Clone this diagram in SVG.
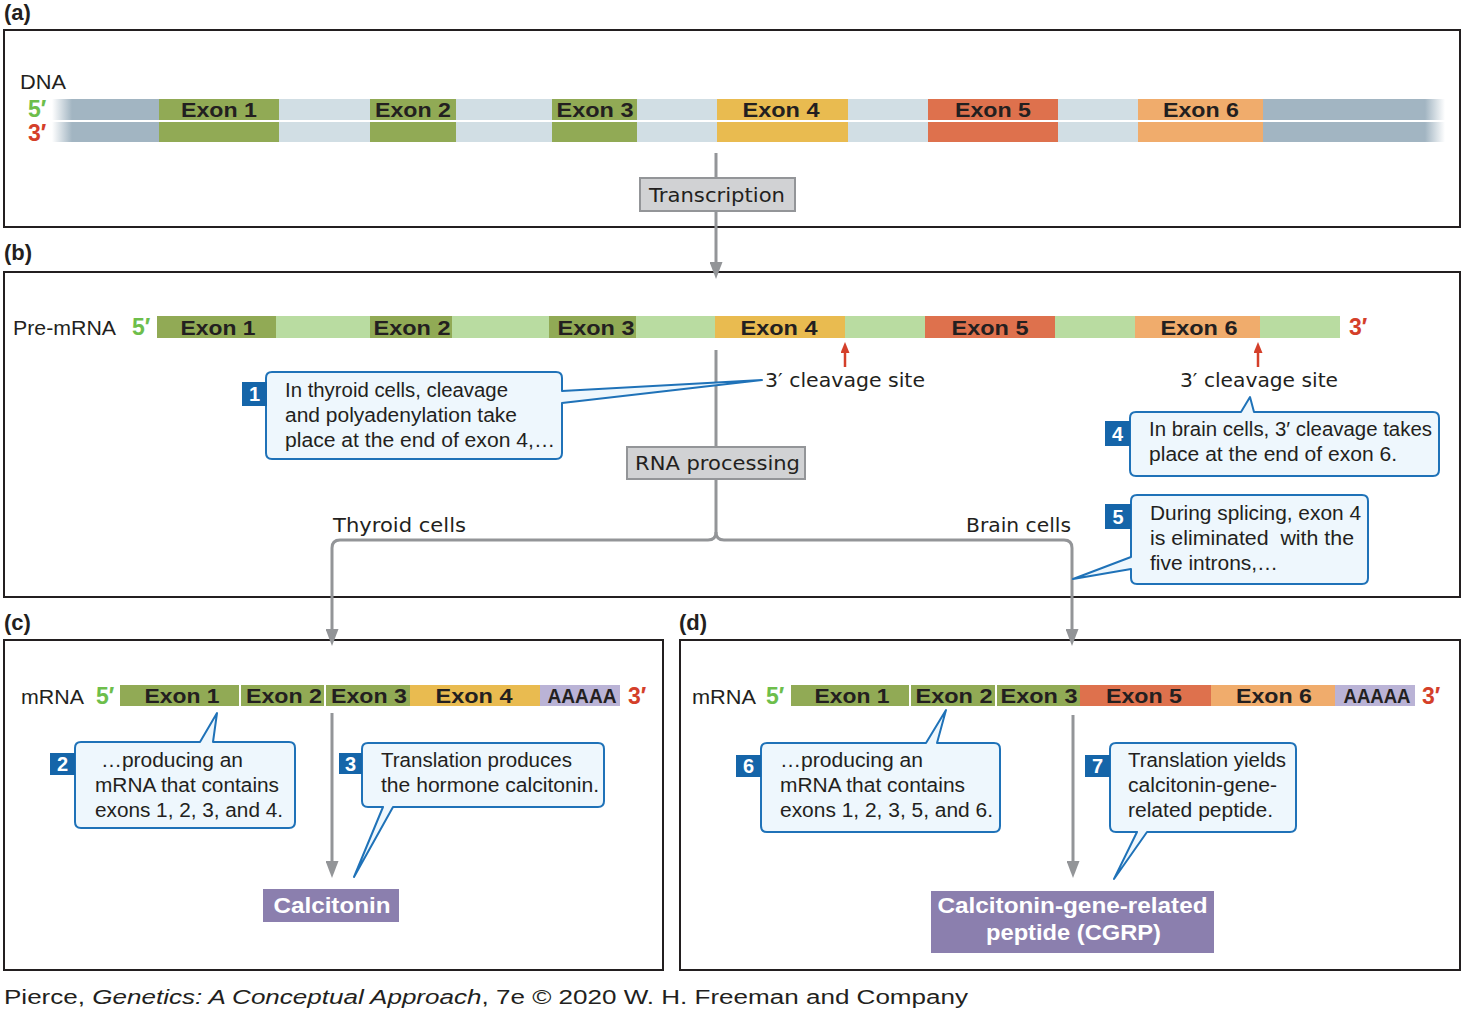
<svg xmlns="http://www.w3.org/2000/svg" width="1464" height="1014" viewBox="0 0 1464 1014">
<defs>
<style>
.panel{fill:none;stroke:#231f20;stroke-width:2}
.plab{font-family:"Liberation Sans",Arial,sans-serif;font-weight:bold;font-size:22px;fill:#231f20}
.t{font-family:"Liberation Sans",Arial,sans-serif;font-size:20px;fill:#231f20}
.l{font-family:"DejaVu Sans","Liberation Sans",sans-serif;font-size:19px;fill:#231f20}
.ex{font-family:"Liberation Sans",Arial,sans-serif;font-weight:bold;font-size:21px;fill:#231f20;text-anchor:middle}
.p5{font-family:"Liberation Sans",Arial,sans-serif;font-weight:bold;font-size:23px;fill:#6dbe4b}
.p3{font-family:"Liberation Sans",Arial,sans-serif;font-weight:bold;font-size:23px;fill:#d43f2a}
.g{fill:#91aa55}.y{fill:#e9bb50}.r{fill:#de714d}.o{fill:#f0ac6c}.a{fill:#bab3d6}.di{fill:#d1dee4}.df{fill:#a2b5c2}.pi{fill:#b9dca1}
.co{fill:#eef7fd;stroke:#1f72b8;stroke-width:2;stroke-linejoin:round}
.bd{fill:#1565a9}
.bn{font-family:"Liberation Sans",Arial,sans-serif;font-weight:bold;font-size:20px;fill:#ffffff;text-anchor:middle}
.gb{fill:#d1d2d4;stroke:#939598;stroke-width:2}
.conn{fill:none;stroke:#939598;stroke-width:3}
.pb{fill:#8b7fae}
.pt{font-family:"Liberation Sans",Arial,sans-serif;font-weight:bold;font-size:22px;fill:#ffffff;text-anchor:middle}
.red{stroke:#d43f2a;stroke-width:2.5;fill:none}
</style>
<marker id="ah" markerUnits="userSpaceOnUse" markerWidth="17" markerHeight="13" viewBox="0 0 17 13" refX="0" refY="6.5" orient="auto"><path d="M0,0 L17,6.5 L0,13 Z" fill="#939598"/></marker>
<marker id="rah" markerUnits="userSpaceOnUse" markerWidth="11" markerHeight="9" viewBox="0 0 11 9" refX="0" refY="4.5" orient="auto"><path d="M0,0 L11,4.5 L0,9 Z" fill="#d43f2a"/></marker>
<linearGradient id="fl" x1="0" x2="1" y1="0" y2="0"><stop offset="0" stop-color="#a2b5c2" stop-opacity="0"/><stop offset="1" stop-color="#a2b5c2"/></linearGradient>
<linearGradient id="fr" x1="0" x2="1" y1="0" y2="0"><stop offset="0" stop-color="#a2b5c2"/><stop offset="1" stop-color="#a2b5c2" stop-opacity="0"/></linearGradient>
</defs>
<rect width="1464" height="1014" fill="#ffffff"/>

<!-- panels -->
<g id="panels">
<text class="plab" x="4" y="20">(a)</text>
<rect class="panel" x="4" y="30" width="1456" height="197"/>
<text class="plab" x="4" y="260">(b)</text>
<rect class="panel" x="4" y="272" width="1456" height="325"/>
<text class="plab" x="4" y="630">(c)</text>
<rect class="panel" x="4" y="640" width="659" height="330"/>
<text class="plab" x="679" y="630">(d)</text>
<rect class="panel" x="680" y="640" width="780" height="330"/>
</g>

<!-- connectors -->
<g id="connectors">
<path class="conn" d="M716,153 V262" marker-end="url(#ah)"/>
<path class="conn" d="M716,350 V532 Q716,540 708,540 H340 Q332,540 332,548 V629" marker-end="url(#ah)"/>
<path class="conn" d="M716,532 Q716,540 724,540 H1064 Q1072,540 1072,548 V629" marker-end="url(#ah)"/>
<path class="conn" d="M332,713 V861" marker-end="url(#ah)"/>
<path class="conn" d="M1073,715 V861" marker-end="url(#ah)"/>
<path class="red" d="M845,367 V353" marker-end="url(#rah)"/>
<path class="red" d="M1258,367 V353" marker-end="url(#rah)"/>
</g>

<!-- DNA -->
<g id="dna">
<text class="t" x="20" y="89" font-size="21" textLength="46" lengthAdjust="spacingAndGlyphs">DNA</text>
<text class="p5" x="28" y="117" font-size="21">5′</text>
<text class="p3" x="28" y="141" font-size="21">3′</text>
<rect x="52" y="99" width="20" height="43" fill="url(#fl)"/>
<rect class="df" x="72" y="99" width="87" height="43"/>
<rect class="g" x="159" y="99" width="120" height="43"/>
<rect class="di" x="279" y="99" width="91" height="43"/>
<rect class="g" x="370" y="99" width="86" height="43"/>
<rect class="di" x="456" y="99" width="96" height="43"/>
<rect class="g" x="552" y="99" width="85" height="43"/>
<rect class="di" x="637" y="99" width="80" height="43"/>
<rect class="y" x="717" y="99" width="131" height="43"/>
<rect class="di" x="848" y="99" width="80" height="43"/>
<rect class="r" x="928" y="99" width="130" height="43"/>
<rect class="di" x="1058" y="99" width="80" height="43"/>
<rect class="o" x="1138" y="99" width="125" height="43"/>
<rect class="df" x="1263" y="99" width="162" height="43"/>
<rect x="1425" y="99" width="20" height="43" fill="url(#fr)"/>
<rect x="52" y="120" width="1393" height="2" fill="#ffffff"/>
<text class="ex" x="219" y="117" textLength="76" lengthAdjust="spacingAndGlyphs">Exon 1</text>
<text class="ex" x="413" y="117" textLength="76" lengthAdjust="spacingAndGlyphs">Exon 2</text>
<text class="ex" x="595" y="117" textLength="77" lengthAdjust="spacingAndGlyphs">Exon 3</text>
<text class="ex" x="781" y="117" textLength="77" lengthAdjust="spacingAndGlyphs">Exon 4</text>
<text class="ex" x="993" y="117" textLength="76" lengthAdjust="spacingAndGlyphs">Exon 5</text>
<text class="ex" x="1201" y="117" textLength="76" lengthAdjust="spacingAndGlyphs">Exon 6</text>
</g>

<g id="transcription">
<rect class="gb" x="640" y="178" width="155" height="33"/>
<text class="l" x="649" y="202" textLength="136" lengthAdjust="spacingAndGlyphs">Transcription</text>
</g>

<!-- Pre-mRNA -->
<g id="premrna">
<text class="t" x="13" y="335" textLength="103" lengthAdjust="spacingAndGlyphs">Pre-mRNA</text>
<text class="p5" x="132" y="335">5′</text>
<rect class="g" x="157" y="316" width="119" height="22"/>
<rect class="pi" x="276" y="316" width="94" height="22"/>
<rect class="g" x="370" y="316" width="82" height="22"/>
<rect class="pi" x="452" y="316" width="97" height="22"/>
<rect class="g" x="549" y="316" width="87" height="22"/>
<rect class="pi" x="636" y="316" width="79" height="22"/>
<rect class="y" x="715" y="316" width="130" height="22"/>
<rect class="pi" x="845" y="316" width="80" height="22"/>
<rect class="r" x="925" y="316" width="130" height="22"/>
<rect class="pi" x="1055" y="316" width="80" height="22"/>
<rect class="o" x="1135" y="316" width="125" height="22"/>
<rect class="pi" x="1260" y="316" width="80" height="22"/>
<text class="p3" x="1349" y="335">3′</text>
<text class="ex" x="218" y="335" textLength="75" lengthAdjust="spacingAndGlyphs">Exon 1</text>
<text class="ex" x="412" y="335" textLength="77" lengthAdjust="spacingAndGlyphs">Exon 2</text>
<text class="ex" x="596" y="335" textLength="77" lengthAdjust="spacingAndGlyphs">Exon 3</text>
<text class="ex" x="779" y="335" textLength="77" lengthAdjust="spacingAndGlyphs">Exon 4</text>
<text class="ex" x="990" y="335" textLength="77" lengthAdjust="spacingAndGlyphs">Exon 5</text>
<text class="ex" x="1199" y="335" textLength="77" lengthAdjust="spacingAndGlyphs">Exon 6</text>
</g>

<g id="cleavage1"><text class="l" x="765" y="387" textLength="160" lengthAdjust="spacingAndGlyphs">3′ cleavage site</text></g>
<g id="cleavage2"><text class="l" x="1180" y="387" textLength="158" lengthAdjust="spacingAndGlyphs">3′ cleavage site</text></g>

<g id="rnaproc">
<rect class="gb" x="627" y="447" width="178" height="32"/>
<text class="l" x="635" y="470" textLength="165" lengthAdjust="spacingAndGlyphs">RNA processing</text>
</g>
<g id="thyroid"><text class="l" x="333" y="532" textLength="133" lengthAdjust="spacingAndGlyphs">Thyroid cells</text></g>
<g id="brain"><text class="l" x="966" y="532" textLength="105" lengthAdjust="spacingAndGlyphs">Brain cells</text></g>

<!-- callout 1 -->
<g id="callout1">
<path class="co" d="M272,372 H556 Q562,372 562,378 V391 L762,380 L562,403 V453 Q562,459 556,459 H272 Q266,459 266,453 V378 Q266,372 272,372 Z"/>
<rect class="bd" x="242" y="382" width="25" height="24"/>
<text class="bn" x="254.5" y="401">1</text>
<text class="t" x="285" y="397" textLength="223" lengthAdjust="spacingAndGlyphs">In thyroid cells, cleavage</text>
<text class="t" x="285" y="422" textLength="232" lengthAdjust="spacingAndGlyphs">and polyadenylation take</text>
<text class="t" x="285" y="447" textLength="270" lengthAdjust="spacingAndGlyphs">place at the end of exon 4,…</text>
</g>

<!-- callout 4 -->
<g id="callout4">
<path class="co" d="M1136,412 H1241 L1250,397 L1254,412 H1433 Q1439,412 1439,418 V470 Q1439,476 1433,476 H1136 Q1130,476 1130,470 V418 Q1130,412 1136,412 Z"/>
<rect class="bd" x="1105" y="421" width="25" height="25"/>
<text class="bn" x="1117.5" y="441">4</text>
<text class="t" x="1149" y="436" textLength="283" lengthAdjust="spacingAndGlyphs">In brain cells, 3′ cleavage takes</text>
<text class="t" x="1149" y="461" textLength="248" lengthAdjust="spacingAndGlyphs">place at the end of exon 6.</text>
</g>

<!-- callout 5 -->
<g id="callout5">
<path class="co" d="M1137,495 H1362 Q1368,495 1368,501 V578 Q1368,584 1362,584 H1137 Q1131,584 1131,578 V569 L1073,579 L1131,557 V501 Q1131,495 1137,495 Z"/>
<rect class="bd" x="1105" y="504" width="26" height="25"/>
<text class="bn" x="1118" y="524">5</text>
<text class="t" x="1150" y="520" textLength="211" lengthAdjust="spacingAndGlyphs">During splicing, exon 4</text>
<text class="t" x="1150" y="545" textLength="204" lengthAdjust="spacingAndGlyphs" xml:space="preserve">is eliminated  with the</text>
<text class="t" x="1150" y="570" textLength="128" lengthAdjust="spacingAndGlyphs">five introns,…</text>
</g>

<!-- mRNA (c) -->
<g id="mrna-c">
<text class="t" x="21" y="704" textLength="63" lengthAdjust="spacingAndGlyphs">mRNA</text>
<text class="p5" x="96" y="704">5′</text>
<rect class="g" x="120" y="685" width="119" height="21"/>
<rect class="g" x="241" y="685" width="83" height="21"/>
<rect class="g" x="326" y="685" width="84" height="21"/>
<rect class="y" x="410" y="685" width="130" height="21"/>
<rect class="a" x="540" y="685" width="80" height="21"/>
<text class="p3" x="628" y="704">3′</text>
<text class="ex" x="182" y="703" textLength="75" lengthAdjust="spacingAndGlyphs">Exon 1</text>
<text class="ex" x="284" y="703" textLength="76" lengthAdjust="spacingAndGlyphs">Exon 2</text>
<text class="ex" x="369" y="703" textLength="76" lengthAdjust="spacingAndGlyphs">Exon 3</text>
<text class="ex" x="474" y="703" textLength="77" lengthAdjust="spacingAndGlyphs">Exon 4</text>
<text class="ex" x="582" y="703" textLength="69" lengthAdjust="spacingAndGlyphs">AAAAA</text>
</g>

<g id="callout2">
<path class="co" d="M81,742 H200 L217,713 L213,742 H289 Q295,742 295,748 V822 Q295,828 289,828 H81 Q75,828 75,822 V748 Q75,742 81,742 Z"/>
<rect class="bd" x="50" y="753" width="25" height="22"/>
<text class="bn" x="62.5" y="771">2</text>
<text class="t" x="101" y="767" textLength="142" lengthAdjust="spacingAndGlyphs">…producing an</text>
<text class="t" x="95" y="792" textLength="184" lengthAdjust="spacingAndGlyphs">mRNA that contains</text>
<text class="t" x="95" y="817" textLength="188" lengthAdjust="spacingAndGlyphs">exons 1, 2, 3, and 4.</text>
</g>

<g id="callout3">
<path class="co" d="M368,743 H598 Q604,743 604,749 V801 Q604,807 598,807 H393 L354,877 L383,807 H368 Q362,807 362,801 V749 Q362,743 368,743 Z"/>
<rect class="bd" x="339" y="753" width="23" height="21"/>
<text class="bn" x="350.5" y="771">3</text>
<text class="t" x="381" y="767" textLength="191" lengthAdjust="spacingAndGlyphs">Translation produces</text>
<text class="t" x="381" y="792" textLength="218" lengthAdjust="spacingAndGlyphs">the hormone calcitonin.</text>
</g>

<g id="calcitonin">
<rect class="pb" x="263" y="889" width="136" height="33"/>
<text class="pt" x="332" y="913" textLength="117" lengthAdjust="spacingAndGlyphs">Calcitonin</text>
</g>

<!-- mRNA (d) -->
<g id="mrna-d">
<text class="t" x="692" y="704" textLength="64" lengthAdjust="spacingAndGlyphs">mRNA</text>
<text class="p5" x="766" y="704">5′</text>
<rect class="g" x="791" y="685" width="118" height="21"/>
<rect class="g" x="911" y="685" width="84" height="21"/>
<rect class="g" x="997" y="685" width="83" height="21"/>
<rect class="r" x="1080" y="685" width="131" height="21"/>
<rect class="o" x="1211" y="685" width="124" height="21"/>
<rect class="a" x="1335" y="685" width="80" height="21"/>
<text class="p3" x="1422" y="704">3′</text>
<text class="ex" x="852" y="703" textLength="75" lengthAdjust="spacingAndGlyphs">Exon 1</text>
<text class="ex" x="954" y="703" textLength="77" lengthAdjust="spacingAndGlyphs">Exon 2</text>
<text class="ex" x="1039" y="703" textLength="77" lengthAdjust="spacingAndGlyphs">Exon 3</text>
<text class="ex" x="1144" y="703" textLength="76" lengthAdjust="spacingAndGlyphs">Exon 5</text>
<text class="ex" x="1274" y="703" textLength="76" lengthAdjust="spacingAndGlyphs">Exon 6</text>
<text class="ex" x="1377" y="703" textLength="67" lengthAdjust="spacingAndGlyphs">AAAAA</text>
</g>

<g id="callout6">
<path class="co" d="M767,743 H926 L946,710 L937,743 H994 Q1000,743 1000,749 V826 Q1000,832 994,832 H767 Q761,832 761,826 V749 Q761,743 767,743 Z"/>
<rect class="bd" x="736" y="755" width="25" height="22"/>
<text class="bn" x="748.5" y="773">6</text>
<text class="t" x="780" y="767" textLength="143" lengthAdjust="spacingAndGlyphs">…producing an</text>
<text class="t" x="780" y="792" textLength="185" lengthAdjust="spacingAndGlyphs">mRNA that contains</text>
<text class="t" x="780" y="817" textLength="213" lengthAdjust="spacingAndGlyphs">exons 1, 2, 3, 5, and 6.</text>
</g>

<g id="callout7">
<path class="co" d="M1116,743 H1290 Q1296,743 1296,749 V826 Q1296,832 1290,832 H1147 L1114,879 L1137,832 H1116 Q1110,832 1110,826 V749 Q1110,743 1116,743 Z"/>
<rect class="bd" x="1085" y="755" width="25" height="22"/>
<text class="bn" x="1097.5" y="773">7</text>
<text class="t" x="1128" y="767" textLength="158" lengthAdjust="spacingAndGlyphs">Translation yields</text>
<text class="t" x="1128" y="792" textLength="149" lengthAdjust="spacingAndGlyphs">calcitonin-gene-</text>
<text class="t" x="1128" y="817" textLength="145" lengthAdjust="spacingAndGlyphs">related peptide.</text>
</g>

<g id="cgrp">
<rect class="pb" x="931" y="891" width="283" height="62"/>
<text class="pt" x="1072.5" y="913" textLength="270" lengthAdjust="spacingAndGlyphs">Calcitonin-gene-related</text>
<text class="pt" x="1073.5" y="940" textLength="175" lengthAdjust="spacingAndGlyphs">peptide (CGRP)</text>
</g>

<g id="caption">
<text class="t" x="4" y="1004" font-size="26" textLength="964" lengthAdjust="spacingAndGlyphs">Pierce, <tspan font-style="italic">Genetics: A Conceptual Approach</tspan>, 7e © 2020 W. H. Freeman and Company</text>
</g>
</svg>
